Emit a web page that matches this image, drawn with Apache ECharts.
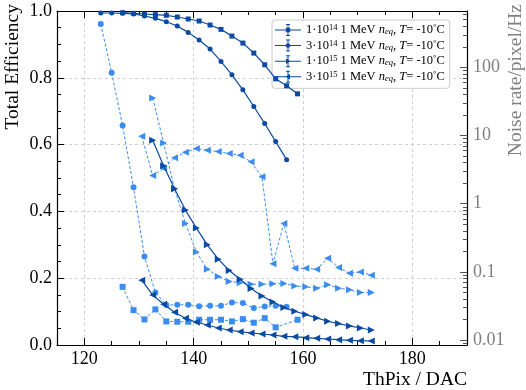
<!DOCTYPE html>
<html><head><meta charset="utf-8">
<script src="https://cdn.jsdelivr.net/npm/echarts@6/dist/echarts.min.js"></script>
<style>html,body{margin:0;padding:0;background:#fff}#c{width:526px;height:390px}</style>
</head><body><div id="c"></div>
<script>
// ---- data ----
const effSqX = [127,129,131,133,135,137,139,141,143,145,147,149,151,153,155,157,159];
const effSqY = [0.995,0.993,0.991,0.989,0.987,0.982,0.976,0.970,0.958,0.945,0.925,0.904,0.874,0.839,0.797,0.776,0.752];
const effCiX = [123,125,127,129,131,133,135,137,139,141,143,145,147,149,151,153,155,157];
const effCiY = [0.994,0.994,0.993,0.991,0.985,0.978,0.968,0.955,0.936,0.913,0.886,0.849,0.809,0.764,0.714,0.663,0.609,0.555];
const effTrRX = [132.5,134.5,136.5,138.5,140.5,142.5,144.5,146.5,148.5,150.5,152.5,154.5,156.5,158.5,160.5,162.5,164.5,166.5,168.5,170.5,172.5];
const effTrRY = [0.613,0.537,0.468,0.404,0.350,0.300,0.257,0.223,0.197,0.169,0.147,0.129,0.112,0.101,0.091,0.081,0.071,0.064,0.057,0.051,0.045];
const effTrLX = [130.5,132.5,134.5,136.5,138.5,140.5,142.5,144.5,146.5,148.5,150.5,152.5,154.5,156.5,158.5,160.5,162.5,164.5,166.5,168.5,170.5,172.5];
const effTrLY = [0.194,0.150,0.122,0.098,0.080,0.068,0.060,0.051,0.045,0.040,0.036,0.033,0.030,0.026,0.025,0.022,0.020,0.018,0.016,0.014,0.013,0.012];

const nzSqX = [127,129,131,133,135,137,139,141,143,145,147,149,151,153,155,159];
const nzSqY = [0.0604,0.0275,0.0201,0.0282,0.0188,0.0186,0.0186,0.0199,0.0199,0.0199,0.0188,0.0203,0.0180,0.0210,0.0154,0.0199];
const nzCiX = [123,125,127,129,131,133,135,137,139,141,143,145,147,149,151,153,155,157];
const nzCiY = [432,83,14,1.74,0.168,0.050,0.0326,0.0330,0.0330,0.0315,0.0318,0.0318,0.0357,0.0349,0.0295,0.0312,0.0318,0.0308];
const nzTrRX = effTrRX;
const nzTrRY = [35.5,7.8,1.66,0.515,0.196,0.109,0.0857,0.0724,0.0695,0.0661,0.0661,0.0668,0.0677,0.0624,0.0604,0.0578,0.0646,0.0578,0.0546,0.0500,0.0500];
const nzTrLX = effTrLX;
const nzTrLY = [9.73,2.59,3.28,4.71,5.68,6.43,6.08,5.82,5.44,5.14,4.11,2.48,0.132,0.515,0.113,0.113,0.109,0.159,0.116,0.0957,0.100,0.0895];

const legendMant = ['1','3','1','3'];
const legendExp = ['14','14','15','15'];
const logMajorTicks = [0.01,0.1,1,10,100];
const logMinorTicks = [0.009,0.02,0.03,0.04,0.05,0.06,0.07,0.08,0.09,0.2,0.3,0.4,0.5,0.6,0.7,0.8,0.9,2,3,4,5,6,7,8,9,20,30,40,50,60,70,80,90,200,300,400,500,600];

// ---- styling ----
const FF = 'Liberation Serif';
const DARK = '#0b4aa2';
const LIGHT = '#3a8cf0';
const pairs = (xs, ys) => xs.map((x, i) => [x, ys[i]]);

const bar = 'M0 6 H26 V7 H0 Z M12.5 0.5 H13.5 V12.5 H12.5 Z M11 0.5 H15 V1.5 H11 Z M11 11.5 H15 V12.5 H11 Z ';
const icons = [
  'path://' + bar + 'M10.8 4.3 H15.2 V8.7 H10.8 Z',
  'path://' + bar + 'M10.7 6.5 A2.3 2.3 0 1 1 15.3 6.5 A2.3 2.3 0 1 1 10.7 6.5 Z',
  'path://' + bar + 'M11 3.8 L15.8 6.5 L11 9.2 Z',
  'path://' + bar + 'M15 3.8 L15 9.2 L10.2 6.5 Z'
];
const effNames = ['e14a','e14b','e15a','e15b'];

function effSeries(name, xs, ys, symbol, size, rot) {
  return { name, type:'line', xAxisIndex:0, yAxisIndex:0, data: pairs(xs, ys),
    symbol, symbolSize:size, symbolRotate:rot, showSymbol:true, z:4,
    lineStyle:{color:DARK, width:1.2}, itemStyle:{color:DARK}, emphasis:{disabled:true} };
}
function nzSeries(name, xs, ys, symbol, size, rot) {
  return { name, type:'line', xAxisIndex:0, yAxisIndex:1, data: pairs(xs, ys),
    symbol, symbolSize:size, symbolRotate:rot, showSymbol:true, z:3,
    lineStyle:{color:LIGHT, width:1, type:[3,2]}, itemStyle:{color:LIGHT}, emphasis:{disabled:true} };
}

const tickStyle = {color:'#000', width:1};
const chart = echarts.init(document.getElementById('c'), null, {renderer:'canvas'});
chart.setOption({
  animation:false,
  backgroundColor:'#fff',
  grid:{left:57, right:59, top:11, bottom:44, containLabel:false},
  xAxis:[
    { type:'value', min:115, max:190, splitNumber:4, position:'bottom',
      axisLine:{show:true, onZero:false, lineStyle:{color:'#000', width:1.2}},
      axisTick:{inside:true, length:7, lineStyle:tickStyle},
      minorTick:{show:true, splitNumber:4, length:4, lineStyle:tickStyle},
      axisLabel:{color:'#000', fontFamily:FF, fontSize:18, margin:5, showMinLabel:false, showMaxLabel:false},
      splitLine:{show:true, lineStyle:{color:'#cfcfcf', type:[3,3], width:1}},
      name:'ThPix / DAC', nameLocation:'end', nameGap:0,
      nameTextStyle:{fontFamily:FF, fontSize:19.5, color:'#000', align:'right', verticalAlign:'top', padding:[25,0,0,0]}
    },
    { type:'value', min:115, max:190, splitNumber:4, position:'top',
      axisLine:{show:true, onZero:false, lineStyle:{color:'#000', width:1.2}},
      axisTick:{inside:true, length:7, lineStyle:tickStyle},
      minorTick:{show:true, splitNumber:4, length:4, lineStyle:tickStyle},
      axisLabel:{show:false}, splitLine:{show:false}
    }
  ],
  yAxis:[
    { type:'value', min:0, max:1, interval:0.2, position:'left',
      axisLine:{show:true, onZero:false, lineStyle:{color:'#000', width:1.2}},
      axisTick:{inside:true, length:7, lineStyle:tickStyle},
      minorTick:{show:true, splitNumber:4, length:4, lineStyle:tickStyle},
      axisLabel:{color:'#000', fontFamily:FF, fontSize:18, margin:5, formatter: v => v.toFixed(1)},
      splitLine:{show:true, lineStyle:{color:'#cfcfcf', type:[3,3], width:1}},
      name:'Total Efficiency', nameLocation:'end', nameRotate:90, nameGap:7,
      nameTextStyle:{fontFamily:FF, fontSize:19.5, color:'#000', align:'right', verticalAlign:'bottom', padding:[0,0,34,0]}
    },
    { type:'log', logBase:10, min:0.00848, max:670, position:'right',
      axisLine:{show:true, onZero:false, lineStyle:{color:'#000', width:1.2}},
      axisTick:{inside:true, length:7, lineStyle:{color:'#555', width:1}, customValues: logMajorTicks},
      minorTick:{show:false},
      axisLabel:{color:'#808080', fontFamily:FF, fontSize:18, margin:6, customValues: logMajorTicks,
        formatter: v => String(Number(v.toPrecision(3)))},
      splitLine:{show:false},
      name:'Noise rate/pixel/Hz', nameLocation:'end', nameRotate:90, nameGap:7,
      nameTextStyle:{fontFamily:FF, fontSize:19.5, color:'#808080', align:'right', verticalAlign:'top', padding:[39,0,0,0]}
    },
    { type:'log', logBase:10, min:0.00848, max:670, position:'right', offset:0,
      axisLine:{show:false},
      axisTick:{show:true, inside:true, length:4, lineStyle:{color:'#555', width:1}, customValues: logMinorTicks},
      minorTick:{show:false}, axisLabel:{show:false}, splitLine:{show:false}
    }
  ],
  legend:{
    orient:'vertical', left:272, top:20,
    data: effNames.map((n, i) => ({name:n, icon:icons[i]})),
    itemWidth:26, itemHeight:13, itemGap:2.6,
    padding:[3.5,5,5,3],
    backgroundColor:'#fff', borderColor:'#cccccc', borderWidth:1, borderRadius:3,
    selectedMode:false,
    textStyle:{fontFamily:FF, fontSize:12.5, color:'#000',
      rich:{
        n:{fontFamily:FF, fontSize:12.5, color:'#000'},
        it:{fontFamily:FF, fontSize:12.5, fontStyle:'italic', color:'#000'},
        sup:{fontFamily:FF, fontSize:8.5, color:'#000', verticalAlign:'top'},
        sub:{fontFamily:FF, fontSize:8.5, fontStyle:'italic', color:'#000', verticalAlign:'bottom'}
      }},
    formatter: name => {
      const i = effNames.indexOf(name);
      return '{n|' + legendMant[i] + '·10}{sup|' + legendExp[i] + '}{n| 1 MeV }{it|n}{sub|eq}{n|, }{it|T}{n|= -10}{sup|°}{n|C}';
    }
  },
  series:[
    nzSeries('nzCi', nzCiX, nzCiY, 'circle', 6, 0),
    nzSeries('nzSq', nzSqX, nzSqY, 'rect', 6, 0),
    nzSeries('nzTrR', nzTrRX, nzTrRY, 'triangle', 7, -90),
    nzSeries('nzTrL', nzTrLX, nzTrLY, 'triangle', 7, 90),
    effSeries('e14a', effSqX, effSqY, 'rect', 5, 0),
    effSeries('e14b', effCiX, effCiY, 'circle', 5, 0),
    effSeries('e15a', effTrRX, effTrRY, 'triangle', 7, -90),
    effSeries('e15b', effTrLX, effTrLY, 'triangle', 7, 90)
  ]
});
</script>
</body></html>
